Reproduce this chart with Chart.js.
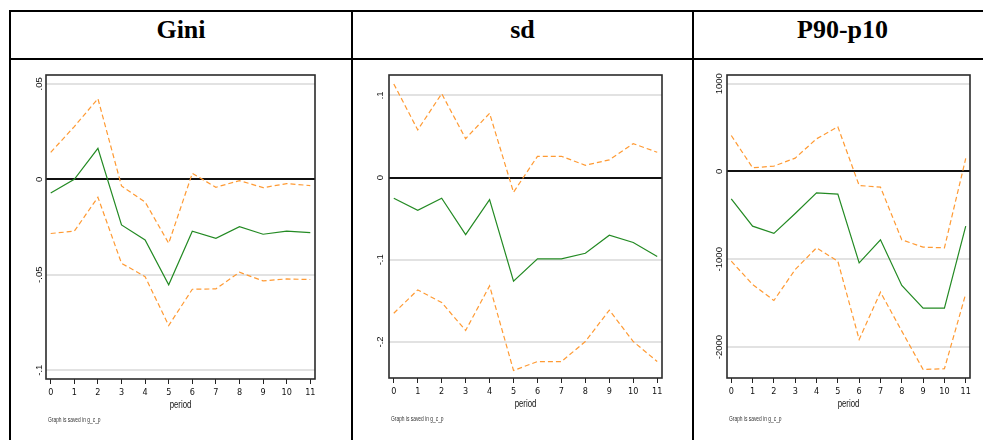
<!DOCTYPE html>
<html>
<head>
<meta charset="utf-8">
<script src="https://cdn.jsdelivr.net/npm/chart.js@4.4.1/dist/chart.umd.min.js"></script>
<style>
  html, body { margin: 0; padding: 0; background: #fff; width: 983px; height: 440px; overflow: hidden; position: relative; }
  .rule { position: absolute; background: #000; }
  .head { position: absolute; top: 13px; height: 34px; line-height: 34px; text-align: center;
          font-family: "Liberation Serif", "Times New Roman", serif; font-weight: bold; font-size: 26px; color: #000; }
  .cell { position: absolute; top: 60px; height: 380px; }
  .cell canvas { position: absolute; left: 0; top: 0; }
</style>
</head>
<body>
<!-- table rules -->
<div class="rule" style="left:9px;top:10px;width:1000px;height:2px"></div>
<div class="rule" style="left:9px;top:58px;width:1000px;height:2px"></div>
<div class="rule" style="left:9px;top:10px;width:2px;height:440px"></div>
<div class="rule" style="left:351px;top:10px;width:2px;height:440px"></div>
<div class="rule" style="left:692px;top:10px;width:2px;height:440px"></div>

<div class="head" style="left:11px;width:340px">Gini</div>
<div class="head" style="left:353px;width:339px">sd</div>
<div class="head" style="left:694px;width:297px">P90-p10</div>

<div class="cell" style="left:11px;width:340px"><canvas id="cGini" width="340" height="380"></canvas></div>
<div class="cell" style="left:353px;width:339px"><canvas id="cSd" width="339" height="380"></canvas></div>
<div class="cell" style="left:694px;width:289px"><canvas id="cP" width="289" height="380"></canvas></div>

<script>
// Impulse responses with upper / lower confidence bands, by period
const periods = [0, 1, 2, 3, 4, 5, 6, 7, 8, 9, 10, 11];

const giniIrf   = [-0.0072, 0.0000, 0.0162, -0.0239, -0.0318, -0.0553, -0.0272, -0.0309, -0.0248, -0.0288, -0.0272, -0.0279];
const giniUpper = [ 0.0141, 0.0276, 0.0422, -0.0035, -0.0119, -0.0335,  0.0031, -0.0042, -0.0007, -0.0044, -0.0023, -0.0033];
const giniLower = [-0.0284, -0.0272, -0.0094, -0.0440, -0.0510, -0.0766, -0.0576, -0.0574, -0.0487, -0.0532, -0.0522, -0.0525];

const sdIrf   = [-0.0251, -0.0397, -0.0251, -0.0693, -0.0268, -0.1260, -0.0989, -0.0989, -0.0920, -0.0701, -0.0790, -0.0960];
const sdUpper = [ 0.1139,  0.0580,  0.1021,  0.0474,  0.0782, -0.0178,  0.0259,  0.0259,  0.0150,  0.0215,  0.0413,  0.0308];
const sdLower = [-0.1650, -0.1366, -0.1520, -0.1860, -0.1317, -0.2347, -0.2238, -0.2238, -0.1994, -0.1613, -0.1994, -0.2238];

const p9010Irf   = [-311, -623, -706, -479, -243, -258, -1041, -779, -1299, -1557, -1557, -623];
const p9010Upper = [ 410,   42,   61,  152,  372,  509,  -160, -179,  -779,  -862,  -870,  148];
const p9010Lower = [-1022, -1287, -1470, -1117, -870, -1022, -1914, -1375, -1819, -2256, -2248, -1394];

// y-axis tick values and their printed labels
const giniTicks = [-0.1, -0.05, 0, 0.05];
const giniTickLabels = ['-.1', '-.05', '0', '.05'];
const sdTicks = [-0.2, -0.1, 0, 0.1];
const sdTickLabels = ['-.2', '-.1', '0', '.1'];
const p9010Ticks = [-2000, -1000, 0, 1000];
const p9010TickLabels = ['-2000', '-1000', '0', '1000'];

const xTitle = 'period';
const noteText = 'Graph is saved in g_c_p';

const GREEN = '#238a23';
const ORANGE = '#ff9a33';
const NARROW = '"Liberation Sans Narrow", "Arial Narrow", "DejaVu Sans Condensed", "Liberation Sans", Arial, sans-serif';
const YFONT = '"Liberation Sans", Arial, sans-serif';
const YSIZE = 9.5;

function measureWidest(labels, size, family) {
  const c = document.createElement('canvas').getContext('2d');
  c.font = size + 'px ' + family;
  return Math.max(...labels.map(l => c.measureText(l).width));
}

const framePlugin = {
  id: 'frame',
  afterDatasetsDraw(chart) {
    const a = chart.chartArea, ctx = chart.ctx;
    ctx.save();
    ctx.strokeStyle = '#2b2b2b';
    ctx.lineWidth = 1.6;
    ctx.strokeRect(a.left, a.top, a.right - a.left, a.bottom - a.top);
    ctx.restore();
  }
};

// axis title and graph note, drawn in a tall, condensed face
const captionPlugin = {
  id: 'captions',
  afterDraw(chart) {
    const a = chart.chartArea, ctx = chart.ctx;
    ctx.save();
    ctx.fillStyle = '#111';
    ctx.textBaseline = 'middle';
    ctx.textAlign = 'center';
    ctx.font = '11.5px ' + YFONT;
    const cx = (a.left + a.right) / 2, cy = a.bottom + 26;
    ctx.translate(cx, cy);
    ctx.scale(0.68, 1);
    ctx.fillText(xTitle, 0, 0);
    ctx.restore();

    ctx.save();
    ctx.fillStyle = '#333';
    ctx.textBaseline = 'middle';
    ctx.textAlign = 'left';
    ctx.font = '6.5px ' + YFONT;
    ctx.translate(a.left + 2, a.bottom + 41);
    ctx.scale(0.75, 1);
    ctx.fillText(noteText, 0, 0);
    ctx.restore();
  }
};

function makeChart(id, irf, upper, lower, yMin, yMax, ticks, tickLabels, box) {
  const yWidth = 20;
  const widest = measureWidest(tickLabels, YSIZE, YFONT);
  const pts = arr => periods.map((p, i) => ({ x: p, y: arr[i] }));
  const band = (arr) => ({
    data: pts(arr), borderColor: ORANGE, borderWidth: 1.2, borderDash: [5, 3],
    pointRadius: 0, tension: 0, fill: false
  });
  return new Chart(document.getElementById(id), {
    type: 'line',
    data: {
      datasets: [
        band(upper),
        band(lower),
        { data: pts(irf), borderColor: GREEN, borderWidth: 1.2, pointRadius: 0, tension: 0, fill: false }
      ]
    },
    options: {
      responsive: false,
      animation: false,
      events: [],
      layout: { padding: { left: box.left - yWidth, top: box.top, right: box.right, bottom: 0 } },
      plugins: { legend: { display: false }, tooltip: { enabled: false } },
      scales: {
        x: {
          type: 'linear', min: -0.2, max: 11.2,
          afterBuildTicks: s => { s.ticks = periods.map(v => ({ value: v })); },
          afterFit: s => { s.height = box.bottom; s.paddingLeft = 0; s.paddingRight = 0; },
          grid: { drawOnChartArea: false, drawTicks: true, tickLength: 5, color: '#222', lineWidth: 1 },
          border: { display: false },
          ticks: { autoSkip: false, maxRotation: 0, padding: 3, color: '#111',
                   font: { family: NARROW, size: 9 } }
        },
        y: {
          type: 'linear', min: yMin, max: yMax,
          afterBuildTicks: s => { s.ticks = ticks.map(v => ({ value: v })); },
          afterFit: s => { s.width = yWidth; s.paddingTop = 0; s.paddingBottom = 0; },
          grid: {
            drawTicks: false,
            color: c => (c.tick && c.tick.value === 0) ? '#111' : '#e2e2e2',
            lineWidth: 2
          },
          border: { display: false },
          ticks: {
            autoSkip: false, minRotation: 90, maxRotation: 90, crossAlign: 'center',
            padding: box.gap - widest / 2, color: '#111',
            font: { family: YFONT, size: YSIZE },
            callback: (v, i) => tickLabels[i]
          }
        }
      }
    },
    plugins: [framePlugin, captionPlugin]
  });
}

makeChart('cGini', giniIrf, giniUpper, giniLower, -0.1046, 0.0546, giniTicks, giniTickLabels,
          { left: 35, right: 36, top: 15, bottom: 61, gap: 7 });
makeChart('cSd', sdIrf, sdUpper, sdLower, -0.2438, 0.1248, sdTicks, sdTickLabels,
          { left: 36, right: 30, top: 15, bottom: 62, gap: 9 });
makeChart('cP', p9010Irf, p9010Upper, p9010Lower, -2353, 1099, p9010Ticks, p9010TickLabels,
          { left: 33, right: 13, top: 15, bottom: 62, gap: 8 });
</script>
</body>
</html>
